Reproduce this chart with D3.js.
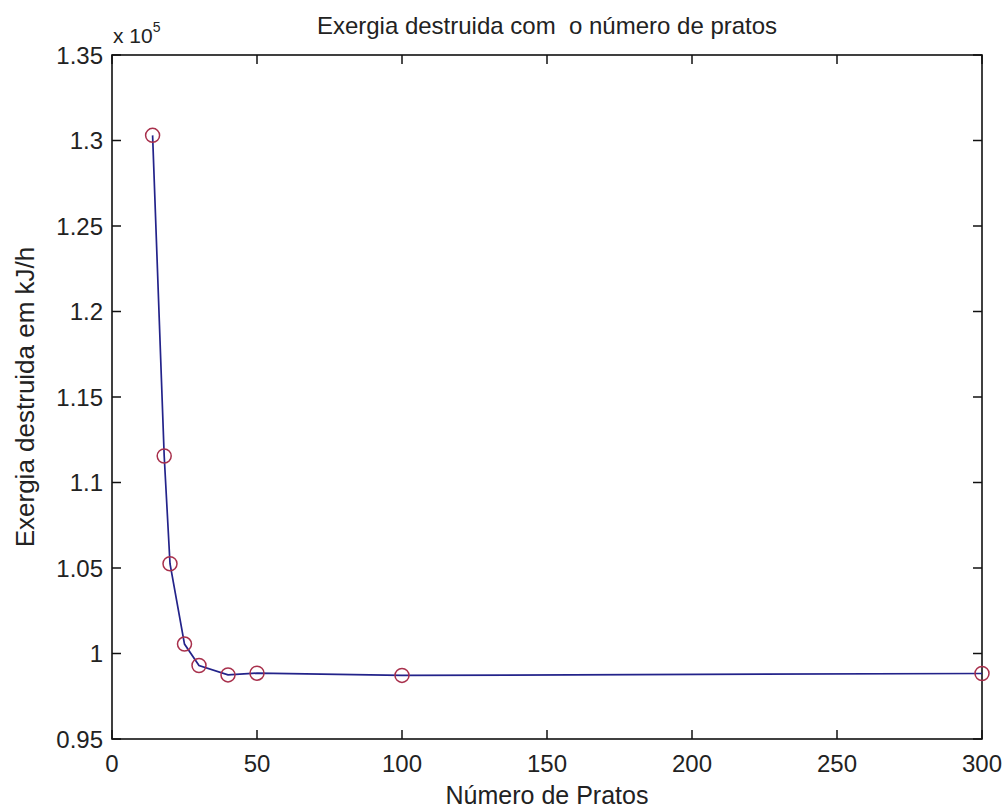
<!DOCTYPE html>
<html><head><meta charset="utf-8">
<script src="https://cdn.jsdelivr.net/npm/d3@7"></script>
<style>
html,body{margin:0;padding:0;background:#fff;}
svg{display:block;}
text{font-family:"Liberation Sans",Arial,sans-serif;fill:#222;white-space:pre;}
</style></head><body>
<svg id="chart" width="1004" height="809"></svg>
<script>
const pratos = [14, 18, 20, 25, 30, 40, 50, 100, 300];
const exergia = [130300, 111550, 105250, 100550, 99300, 98750, 98850, 98720, 98830];
const xTicks = [0, 50, 100, 150, 200, 250, 300];
const yTicks = [0.95, 1, 1.05, 1.1, 1.15, 1.2, 1.25, 1.3, 1.35];
const yTickLabels = ["0.95", "1", "1.05", "1.1", "1.15", "1.2", "1.25", "1.3", "1.35"];
const titleText = "Exergia destruida com  o número de pratos";
const xLabel = "Número de Pratos";
const yLabel = "Exergia destruida em kJ/h";

const svg = d3.select("#chart");
const m = {l:112, r:982, t:55, b:739};
const x = d3.scaleLinear().domain([0,300]).range([m.l, m.r]);
const y = d3.scaleLinear().domain([0.95e5,1.35e5]).range([m.b, m.t]);
const tl = 9;

const g = svg.append("g");
g.append("rect").attr("x",m.l).attr("y",m.t).attr("width",m.r-m.l).attr("height",m.b-m.t)
 .attr("fill","#fff").attr("stroke","#111").attr("stroke-width",1.6);

xTicks.forEach(t=>{
  g.append("line").attr("x1",x(t)).attr("x2",x(t)).attr("y1",m.b).attr("y2",m.b-tl).attr("stroke","#111").attr("stroke-width",1.5);
  g.append("line").attr("x1",x(t)).attr("x2",x(t)).attr("y1",m.t).attr("y2",m.t+tl).attr("stroke","#111").attr("stroke-width",1.5);
  g.append("text").attr("x",x(t)).attr("y",m.b+33).attr("text-anchor","middle").attr("font-size",24).text(t);
});
yTicks.forEach((t,i)=>{
  const yy = y(t*1e5);
  g.append("line").attr("x1",m.l).attr("x2",m.l+tl).attr("y1",yy).attr("y2",yy).attr("stroke","#111").attr("stroke-width",1.5);
  g.append("line").attr("x1",m.r).attr("x2",m.r-tl).attr("y1",yy).attr("y2",yy).attr("stroke","#111").attr("stroke-width",1.5);
  g.append("text").attr("x",m.l-9).attr("y",yy+8.5).attr("text-anchor","end").attr("font-size",24).text(yTickLabels[i]);
});

const ex = g.append("text").attr("x",m.l+1).attr("y",m.t-12).attr("font-size",21);
ex.append("tspan").text("x 10");
ex.append("tspan").attr("dy",-11).attr("font-size",14).text("5");

const data = pratos.map((p,i)=>({p, v:exergia[i]}));
g.append("path").datum(data)
 .attr("d", d3.line().x(d=>x(d.p)).y(d=>y(d.v)))
 .attr("fill","none").attr("stroke","#23238a").attr("stroke-width",1.7);
g.selectAll("circle.pt").data(data).enter().append("circle")
 .attr("cx",d=>x(d.p)).attr("cy",d=>y(d.v)).attr("r",7)
 .attr("fill","none").attr("stroke","#a8304c").attr("stroke-width",1.5);

g.append("text").attr("x",(m.l+m.r)/2).attr("y",34).attr("text-anchor","middle").attr("font-size",24).text(titleText);
g.append("text").attr("x",(m.l+m.r)/2).attr("y",804).attr("text-anchor","middle").attr("font-size",25).text(xLabel);
g.append("text").attr("transform",`translate(34,${(m.t+m.b)/2}) rotate(-90)`).attr("text-anchor","middle").attr("font-size",26).text(yLabel);
</script>
</body></html>
